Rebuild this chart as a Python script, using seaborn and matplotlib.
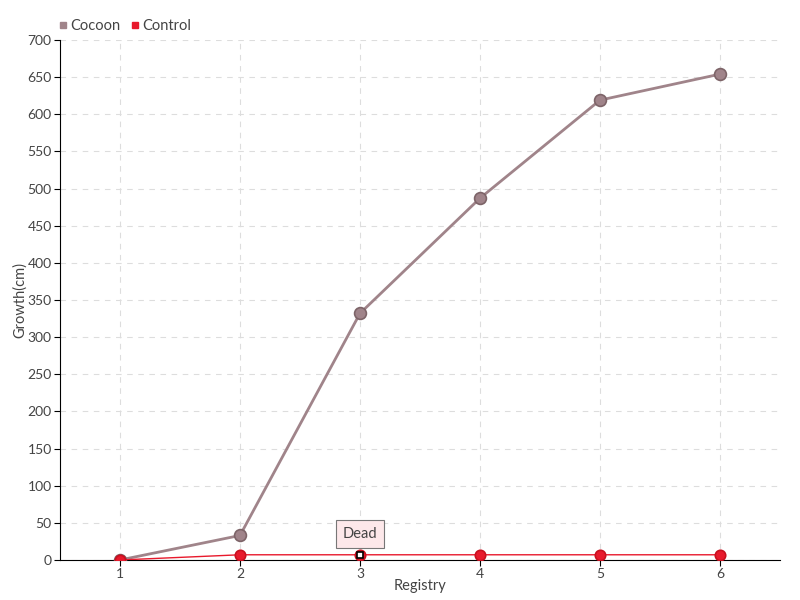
import matplotlib
matplotlib.use("Agg")
import matplotlib.pyplot as plt
import seaborn as sns
import pandas as pd
from matplotlib.lines import Line2D

# data
registry = [1, 2, 3, 4, 5, 6]
cocoon = [0, 33, 332, 487, 619, 654]
control = [0, 7, 7, 7, 7, 7]

df = pd.DataFrame({
    "Registry": registry * 2,
    "Growth": cocoon + control,
    "Group": ["Cocoon"] * 6 + ["Control"] * 6,
})

sns.set_style("white")
plt.rcParams["font.family"] = ["Lato", "DejaVu Sans"]
txt = "#444444"

fig = plt.figure(figsize=(8, 6), dpi=100)
ax = fig.add_axes([0.075, 0.0667, 0.9, 0.8667])

colors = {"Cocoon": "#a0848a", "Control": "#e8192c"}
edges = {"Cocoon": "#7d6468", "Control": "#c8101f"}
styles = {"Cocoon": (2.0, 8.5, 3), "Control": (1.0, 7.5, 4)}
for name in ["Cocoon", "Control"]:
    lw, ms, z = styles[name]
    sub = df[df["Group"] == name]
    sns.lineplot(data=sub, x="Registry", y="Growth", ax=ax, color=colors[name],
                 linewidth=lw, marker="o", markersize=ms,
                 markerfacecolor=colors[name], markeredgecolor=edges[name],
                 markeredgewidth=1.2, legend=False, zorder=z)

# "Dead" point marker
ax.plot([3], [control[2]], marker="s", markersize=4, markerfacecolor="white",
        markeredgecolor="black", markeredgewidth=1.2, zorder=6)
ax.annotate("Dead", xy=(3, control[2]), xytext=(3, 35), ha="center", va="center",
            fontsize=10.5, color=txt, zorder=7,
            bbox=dict(boxstyle="square,pad=0.45", fc="#fde8ea", ec="#777777", lw=0.8))

ax.set_xlim(0.5, 6.5)
ax.set_ylim(0, 700)
ax.set_xticks(registry)
ax.set_yticks(range(0, 701, 50))
ax.grid(True, color="#dddddd", linestyle=(0, (5, 5)), linewidth=0.8)
ax.set_axisbelow(True)
for s in ["top", "right"]:
    ax.spines[s].set_visible(False)
ax.spines["left"].set_color("black")
ax.spines["bottom"].set_color("black")
ax.tick_params(axis="both", length=4, color="black", labelcolor=txt, labelsize=10,
               direction="out", bottom=True, left=True, pad=2)
ax.set_xlabel("Registry", color=txt, fontsize=10.5, labelpad=-1)
ax.set_ylabel("Growth(cm)", color=txt, fontsize=10.5)
ax.yaxis.set_label_coords(-0.046, 0.5)

handles = [Line2D([], [], marker="s", linestyle="", color=colors["Cocoon"], markersize=5),
           Line2D([], [], marker="s", linestyle="", color=colors["Control"], markersize=5)]
leg = fig.legend(handles, ["Cocoon", "Control"], loc="upper left", bbox_to_anchor=(0.055, 0.99),
                 ncol=2, frameon=False, handletextpad=0.1, columnspacing=0.6, fontsize=10.5,
                 handlelength=0.8)
for t in leg.get_texts():
    t.set_color(txt)

fig.savefig("out.png", dpi=100)
